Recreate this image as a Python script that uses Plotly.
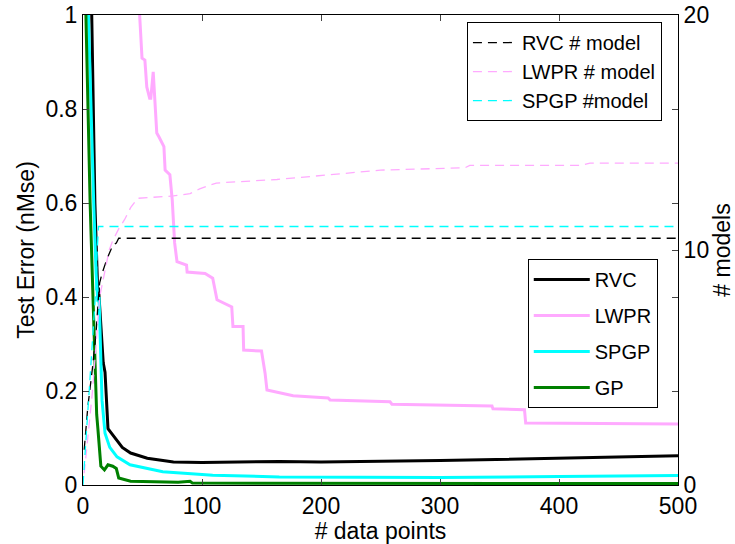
import plotly.graph_objects as go

# ---------------- data ----------------
# Test error (nMse), left axis
rvc_x = [7, 10, 12.5, 13, 14, 17, 18.5, 21, 24, 28, 33, 40, 54, 76, 100, 165, 200, 300, 400, 500]
rvc_y = [1.05, 0.6, 0.4, 0.42, 0.38, 0.26, 0.24, 0.12, 0.11, 0.097, 0.08, 0.068, 0.057, 0.049,
         0.048, 0.05, 0.049, 0.052, 0.057, 0.062]

lwpr_x = [46.5, 49.6, 52, 53.6, 56, 57, 59, 60.5, 62, 64, 66, 68, 69, 73, 75, 77, 79, 87, 87.5,
          102.6, 109, 111, 112.6, 125, 126, 134.5, 135, 150, 153, 154.6, 165, 176.6, 206, 207.6,
          258, 259.6, 343.7, 344.5, 371, 372, 500]
lwpr_y = [1.05, 0.908, 0.904, 0.847, 0.823, 0.823, 0.879, 0.82, 0.749, 0.74, 0.73, 0.72, 0.67,
          0.66, 0.606, 0.515, 0.475, 0.468, 0.453, 0.45, 0.44, 0.415, 0.394, 0.379, 0.337, 0.337,
          0.287, 0.285, 0.238, 0.202, 0.196, 0.19, 0.185, 0.181, 0.177, 0.172, 0.168, 0.162,
          0.16, 0.132, 0.13]

spgp_x = [4, 7, 9, 11, 12.5, 13.5, 16, 18.5, 22.5, 28.6, 39.5, 67, 109, 165, 300, 400, 500]
spgp_y = [1.05, 0.75, 0.6, 0.45, 0.39, 0.4, 0.18, 0.11, 0.08, 0.06, 0.043, 0.028, 0.021, 0.017,
          0.016, 0.018, 0.02]

gp_x = [2, 4, 6, 8.5, 10, 11.5, 12.5, 15, 18, 21, 25, 28, 30, 40, 80, 90, 92, 100, 500]
gp_y = [1.05, 0.8, 0.6, 0.39, 0.24, 0.15, 0.12, 0.04, 0.032, 0.043, 0.04, 0.035, 0.015, 0.008,
        0.006, 0.008, 0.004, 0.004, 0.003]

# Number of models, right axis
rvc_m_x = [1, 4, 8, 11, 13, 14, 16, 20, 25, 28, 30, 500]
rvc_m_y = [1.5, 3.3, 5.0, 6.5, 8.0, 8.6, 9.0, 9.6, 10.2, 10.3, 10.5, 10.5]

lwpr_m_x = [1, 4, 8, 11, 14, 18, 22, 25, 30, 35, 40, 46, 65, 76, 90, 98, 112, 132, 163, 207,
            250, 321, 325, 418, 426, 500]
lwpr_m_y = [0.5, 2, 4, 6, 8, 9, 10, 10.4, 10.9, 11.3, 11.8, 12.2, 12.25, 12.3, 12.4, 12.6,
            12.85, 12.9, 13.0, 13.2, 13.4, 13.5, 13.6, 13.6, 13.7, 13.7]

spgp_m_x = [0, 1, 3, 5, 7, 9, 11, 12, 13, 500]
spgp_m_y = [0, 0.8, 2.5, 4, 5.5, 7, 8.5, 10, 11, 11]

x_ticks = [0, 100, 200, 300, 400, 500]
y_ticks = [0, 0.2, 0.4, 0.6, 0.8, 1]
y_tick_labels = ["0", "0.2", "0.4", "0.6", "0.8", "1"]
y2_ticks = [0, 10, 20]

BLACK = "#000000"
PINK = "#FFAAFF"
CYAN = "#00FFFF"
GREEN = "#008000"
FONT = "Liberation Sans, Arial, sans-serif"
DASH = "9px,6px"
FS = 23
LFS = 20

fig = go.Figure()

# dashed (# models) on right axis
for name, xs, ys, col in [("RVC # model", rvc_m_x, rvc_m_y, BLACK),
                          ("LWPR # model", lwpr_m_x, lwpr_m_y, PINK),
                          ("SPGP #model", spgp_m_x, spgp_m_y, CYAN)]:
    fig.add_trace(go.Scatter(x=xs, y=ys, name=name, mode="lines", yaxis="y2",
                             line=dict(color=col, width=1.3, dash=DASH),
                             legend="legend"))

# solid (error) on left axis
for i, (name, xs, ys, col) in enumerate([("RVC", rvc_x, rvc_y, BLACK),
                                         ("LWPR", lwpr_x, lwpr_y, PINK),
                                         ("SPGP", spgp_x, spgp_y, CYAN),
                                         ("GP", gp_x, gp_y, GREEN)]):
    fig.add_trace(go.Scatter(x=xs, y=ys, name=name, mode="lines", yaxis="y",
                             line=dict(color=col, width=3),
                             legend="legend2", legendgroup="g%d" % i))

fig.update_layout(
    width=735, height=544,
    margin=dict(l=83, r=57, t=15, b=59, autoexpand=False),
    paper_bgcolor="white", plot_bgcolor="white",
    font=dict(family=FONT, size=FS, color="black"),
    showlegend=True,
    xaxis=dict(range=[0, 500], tickvals=x_ticks, ticks="inside", ticklen=6,
               showline=True, linecolor="black", linewidth=1, mirror="ticks",
               showgrid=False, zeroline=False, automargin=False,
               title=dict(text="# data points", standoff=0, font=dict(size=FS)),
               tickfont=dict(size=FS)),
    yaxis=dict(range=[0, 1], tickvals=y_ticks, ticktext=y_tick_labels, ticks="inside",
               ticklen=6, showline=True, linecolor="black", linewidth=1, mirror="ticks",
               showgrid=False, zeroline=False, automargin=False,
               title=dict(text="Test Error (nMse)", standoff=4, font=dict(size=FS)),
               tickfont=dict(size=FS)),
    yaxis2=dict(range=[0, 20], tickvals=y2_ticks, ticks="inside", ticklen=6,
                overlaying="y", side="right", showline=True, linecolor="black",
                linewidth=1, showgrid=False, zeroline=False, automargin=False,
                title=dict(text="# models", standoff=0, font=dict(size=FS)),
                tickfont=dict(size=FS)),
    legend=dict(x=0.973, y=0.985, xanchor="right", yanchor="top",
                bgcolor="white", bordercolor="black", borderwidth=1,
                itemwidth=44,
                font=dict(family=FONT, size=LFS)),
    legend2=dict(x=0.966, y=0.481, xanchor="right", yanchor="top",
                 bgcolor="white", bordercolor="black", borderwidth=1,
                 traceorder="grouped", tracegroupgap=7, itemwidth=56,
                 font=dict(family=FONT, size=LFS)),
)

fig.write_html("out.html", config={"displayModeBar": False},
               post_script="document.body.style.margin='0';")
